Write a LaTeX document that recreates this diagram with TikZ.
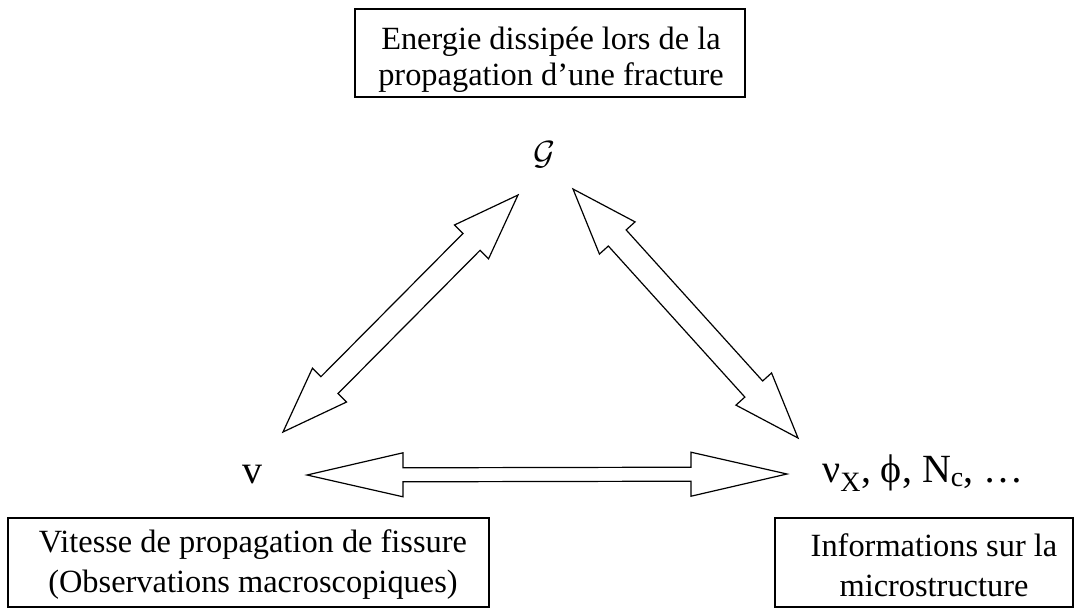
\documentclass[tikz,border=0pt]{standalone}
\usepackage{fontspec}
\setmainfont{Liberation Serif}
\usetikzlibrary{calc}
\tikzset{
  frame/.style={draw, line width=1.3pt, inner sep=0pt},
  lbl/.style={inner sep=0pt, align=center, font=\fontsize{32.4}{40}\selectfont},
  toplbl/.style={inner sep=0pt, align=center, font=\fontsize{32.4}{36}\selectfont},
  sym/.style={inner sep=0pt, font=\fontsize{40}{44}\selectfont},
  arr/.style={draw, fill=white, line width=1.2pt, line join=miter},
}
% double block arrow: tip1, tip2, head length, head half width, shaft half width
\newcommand\dblarr[5]{%
  \draw[arr] (#1)
    -- ($(#1)!#3!(#2)!#4!90:(#2)$)
    -- ($(#1)!#3!(#2)!#5!90:(#2)$)
    -- ($(#2)!#3!(#1)!#5!-90:(#1)$)
    -- ($(#2)!#3!(#1)!#4!-90:(#1)$)
    -- (#2)
    -- ($(#2)!#3!(#1)!#4!90:(#1)$)
    -- ($(#2)!#3!(#1)!#5!90:(#1)$)
    -- ($(#1)!#3!(#2)!#5!-90:(#2)$)
    -- ($(#1)!#3!(#2)!#4!-90:(#2)$)
    -- cycle;}
\begin{document}
\begin{tikzpicture}[x=1pt,y=-1pt]
\useasboundingbox (0,0) rectangle (1080,611);
% boxes
\node[frame, minimum width=390pt, minimum height=88pt] (topbox) at (550,53) {};
\node[toplbl] (toptxt) at (551,60) {Energie dissipée lors de la\\propagation d’une fracture};
\node[frame, minimum width=481pt, minimum height=89pt] (leftbox) at (248.5,562.5) {};
\node[lbl] (lefttxt) at (253,565) {Vitesse de propagation de fissure\\(Observations macroscopiques)};
\node[frame, minimum width=298pt, minimum height=89pt] (rightbox) at (924,562.5) {};
\node[lbl] (righttxt) at (934,565) {Informations sur la\\microstructure};
% vertices
\node[inner sep=0pt, scale=1.35, font=\fontsize{24}{28}\selectfont] (G) at (544,155) {$\mathcal{G}$};
\node[sym, anchor=base] (v) at (252,483) {v};
\node[sym, anchor=base west] (micro) at (822,482) {ν\textsubscript{X}, ϕ, N\textsubscript{c}, …};
% arrow tips
\coordinate (a1) at (518,195); \coordinate (a2) at (283,432);
\coordinate (b1) at (573,189); \coordinate (b2) at (798,438);
\coordinate (c1) at (307,475); \coordinate (c2) at (787,474);
\dblarr{a1}{a2}{66pt}{24pt}{12pt}
\dblarr{b1}{b2}{66pt}{24pt}{12pt}
\dblarr{c1}{c2}{96pt}{22pt}{7pt}
\end{tikzpicture}
\end{document}
